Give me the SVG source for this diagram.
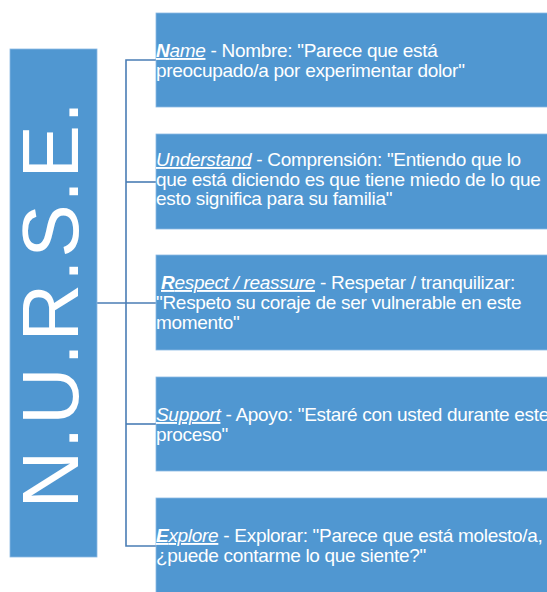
<svg xmlns="http://www.w3.org/2000/svg" width="547" height="592" viewBox="0 0 547 592">
<style>
.box{fill:#5097D1;stroke:#8AB9E3;stroke-width:0.8}
.t{font-family:"Liberation Sans",Arial,sans-serif;font-size:19px;letter-spacing:-0.3px;fill:#FFFFFF}
.k{font-style:italic;text-decoration:underline}
.b{font-weight:bold}
.big{font-family:"Liberation Sans",Arial,sans-serif;font-size:80px;letter-spacing:1.8px;fill:#FFFFFF}
.c{fill:none;stroke:#4A7DB5;stroke-width:1.6}
</style>
<rect width="547" height="592" fill="#FFFFFF"/>
<g id="connectors">
<path class="c" d="M97,303 H156"/>
<path class="c" d="M156,60 H126 V546 H156"/>
<path class="c" d="M126,182 H156"/>
<path class="c" d="M126,424 H156"/>
</g>
<g id="nurse">
<rect class="box" x="10" y="49" width="87" height="508"/>
<text class="big" transform="translate(78,304) rotate(-90)" text-anchor="middle">N.U.R.S.E.</text>
</g>
<g id="name">
<rect class="box" x="156" y="13" width="392" height="94"/>
<text class="t"><tspan x="156" y="57"><tspan class="k"><tspan class="b">N</tspan>ame</tspan> - Nombre: "Parece que está</tspan><tspan x="156" y="77">preocupado/a por experimentar dolor"</tspan></text>
</g>
<g id="understand">
<rect class="box" x="156" y="134" width="392" height="95"/>
<text class="t"><tspan x="156" y="166"><tspan class="k">Understand</tspan> - Comprensión: "Entiendo que lo</tspan><tspan x="156" y="186">que está diciendo es que tiene miedo de lo que</tspan><tspan x="156" y="205">esto significa para su familia"</tspan></text>
</g>
<g id="respect">
<rect class="box" x="156" y="255" width="392" height="95"/>
<text class="t"><tspan x="161" y="289"><tspan class="k"><tspan class="b">R</tspan>espect / reassure</tspan> - Respetar / tranquilizar:</tspan><tspan x="156" y="309">"Respeto su coraje de ser vulnerable en este</tspan><tspan x="156" y="329">momento"</tspan></text>
</g>
<g id="support">
<rect class="box" x="156" y="377" width="392" height="94"/>
<text class="t"><tspan x="156" y="421"><tspan class="k">Support</tspan> - Apoyo: "Estaré con usted durante este</tspan><tspan x="156" y="441">proceso"</tspan></text>
</g>
<g id="explore">
<rect class="box" x="156" y="498" width="392" height="96"/>
<text class="t"><tspan x="156" y="542"><tspan class="k"><tspan class="b">E</tspan>xplore</tspan> - Explorar: "Parece que está molesto/a,</tspan><tspan x="156" y="562">¿puede contarme lo que siente?"</tspan></text>
</g>
</svg>
